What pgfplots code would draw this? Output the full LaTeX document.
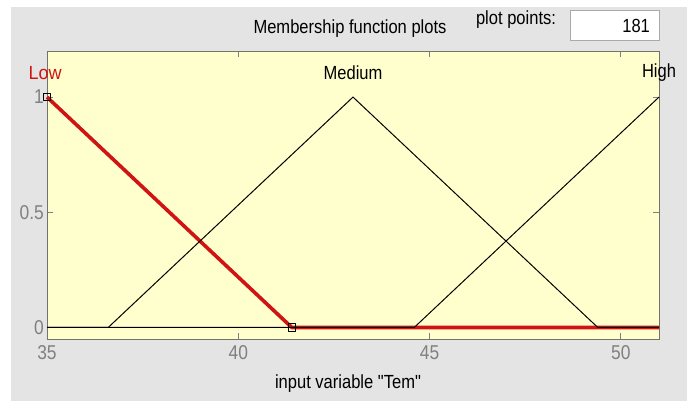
\documentclass[border=0pt]{standalone}
\usepackage{pgfplots}
\pgfplotsset{compat=1.18}
\usepackage{fontspec}
\setmainfont{Liberation Sans}[Ligatures=TeXOff]

\definecolor{panel}{RGB}{228,228,228}
\definecolor{axbg}{RGB}{255,255,206}
\definecolor{tickgrey}{RGB}{128,128,128}
\definecolor{frame}{RGB}{115,115,105}
\definecolor{selred}{RGB}{208,20,20}
\definecolor{boxline}{RGB}{170,170,170}

\newcommand{\uifont}{\fontsize{19}{22}\selectfont}

\begin{document}
\begin{tikzpicture}[x=1pt,y=1pt]
\path[use as bounding box, fill=white] (0,0) rectangle (687,401);
\fill[panel] (11,0) rectangle (687,394);

% header of the mf editor
\node[font=\uifont, xscale=0.87] at (350,372) {Membership function plots};
\node[font=\uifont, xscale=0.87] at (516,381) {plot points:};
\filldraw[fill=white, draw=boxline] (570,361) rectangle (659,391);
\node[font=\uifont, xscale=0.87, anchor=east] at (653,375) {181};

\begin{axis}[
  at={(47pt,62pt)}, anchor=south west,
  scale only axis, width=612pt, height=288pt,
  xmin=35, xmax=51, ymin=-0.05, ymax=1.2,
  axis background/.style={fill=axbg},
  axis line style={frame, line width=0.9pt},
  xtick={35,40,45,50}, xticklabels={35,40,45,50},
  ytick={0,0.5,1}, yticklabels={0,0.5,1},
  tick align=inside, tick pos=both,
  major tick length=6pt,
  every tick/.style={tickgrey, line width=0.8pt},
  tick label style={font=\fontsize{20}{22}\selectfont, text=tickgrey, xscale=0.87},
  xticklabel style={yshift=-3pt},
  clip=false,
]
% Low (selected mf)
\addplot[selred, line width=3.6pt, line join=round,
  mark=square, mark indices={1,2}, mark size=3.6pt,
  mark options={black, line width=0.9pt, fill=none}]
  coordinates {(35,1) (41.4,0) (51,0)};
% Medium
\addplot[black, line width=1pt]
  coordinates {(35,0) (36.6,0) (43,1) (49.4,0) (51,0)};
% High
\addplot[black, line width=1pt]
  coordinates {(35,0) (44.6,0) (51,1)};

\node[font=\uifont, xscale=0.95, text=selred] at (axis cs:34.95,1.105) {Low};
\node[font=\uifont, xscale=0.87] at (axis cs:43,1.105) {Medium};
\node[font=\uifont, xscale=0.87] at (axis cs:51,1.105) {High};
\end{axis}

\node[font=\uifont, xscale=0.87] at (348,17) {input variable "Tem"};
\end{tikzpicture}
\end{document}
